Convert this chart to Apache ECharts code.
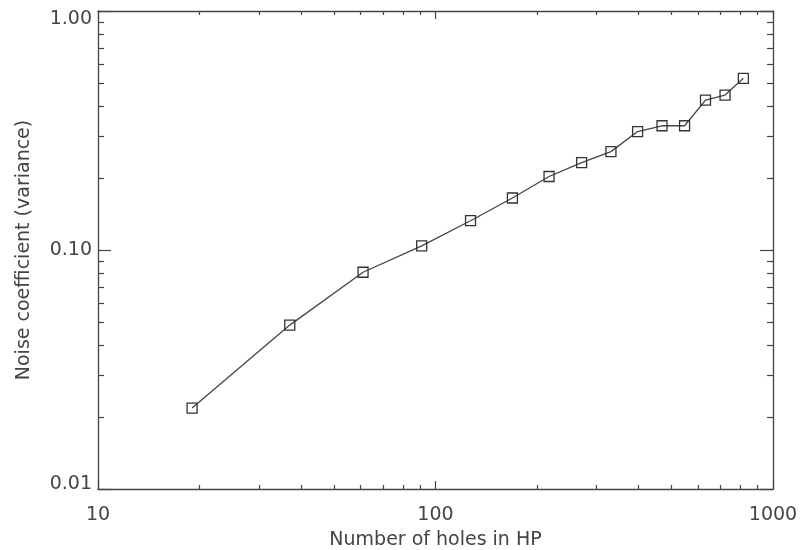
<!DOCTYPE html>
<html>
<head>
<meta charset="utf-8">
<script src="https://cdn.jsdelivr.net/npm/echarts@6/dist/echarts.min.js"></script>
<style>
  html, body { margin: 0; padding: 0; background: #fff; }
  #main { width: 801px; height: 550px; }
</style>
</head>
<body>
<div id="main"></div>
<script>
// holes in HP (x) vs noise coefficient (y)
const holes = [19, 37, 61, 91, 127, 169, 217, 271, 331, 397, 469, 547, 631, 721, 817];
const noise = [0.0218, 0.0485, 0.0807, 0.104, 0.1326, 0.165, 0.203, 0.232, 0.258, 0.313, 0.331, 0.331, 0.424, 0.445, 0.523];

const xMinorTicks = [20, 30, 40, 50, 60, 70, 80, 90, 200, 300, 400, 500, 600, 700, 800, 900];
const yMinorTicks = [0.02, 0.03, 0.04, 0.05, 0.06, 0.07, 0.08, 0.09, 0.2, 0.3, 0.4, 0.5, 0.6, 0.7, 0.8, 0.9];

const INK = '#444';
const FONT = 'DejaVu Sans';

function logAxis(opts) {
  return Object.assign({
    type: 'log',
    logBase: 10,
    splitLine: { show: false },
    axisLine: { show: false },
    axisLabel: { show: false },
    axisTick: { show: false }
  }, opts);
}

// IDL nudges the end labels inwards a little
function yLabel(v) {
  const s = Number(v).toFixed(2);
  if (v > 0.5) return '{hi|' + s + '}';
  if (v < 0.015) return '{lo|' + s + '}';
  return s;
}

const chart = echarts.init(document.getElementById('main'), null, { renderer: 'canvas' });

const xAxes = [
  logAxis({
    min: 10, max: 1000, position: 'bottom',
    axisLine: { show: true, lineStyle: { color: INK, width: 1.3 } },
    axisTick: { show: true, inside: true, length: 8, lineStyle: { color: INK, width: 1.2 } },
    axisLabel: {
      show: true, margin: 17, color: INK, fontFamily: FONT, fontSize: 19,
      formatter: v => String(Math.round(v))
    },
    name: 'Number of holes in HP',
    nameLocation: 'middle',
    nameGap: 42,
    nameTextStyle: { color: INK, fontFamily: FONT, fontSize: 19 }
  }),
  logAxis({
    min: 10, max: 1000, position: 'bottom',
    axisTick: { show: true, inside: true, length: 4, customValues: xMinorTicks, lineStyle: { color: INK, width: 1.2 } }
  }),
  logAxis({
    min: 10, max: 1000, position: 'top',
    axisLine: { show: true, lineStyle: { color: INK, width: 1.3 } },
    axisTick: { show: true, inside: true, length: 8, lineStyle: { color: INK, width: 1.2 } }
  }),
  logAxis({
    min: 10, max: 1000, position: 'top',
    axisTick: { show: true, inside: true, length: 4, customValues: xMinorTicks, lineStyle: { color: INK, width: 1.2 } }
  })
];

const yAxes = [
  logAxis({
    min: 0.01, max: 1, position: 'left',
    axisLine: { show: true, lineStyle: { color: INK, width: 1.3 } },
    axisTick: { show: true, inside: true, length: 13, lineStyle: { color: INK, width: 1.2 } },
    axisLabel: {
      show: true, margin: 6, color: INK, fontFamily: FONT, fontSize: 19,
      formatter: yLabel,
      rich: {
        hi: { color: INK, fontFamily: FONT, fontSize: 19, padding: [16, 0, 0, 0] },
        lo: { color: INK, fontFamily: FONT, fontSize: 19, padding: [0, 0, 9, 0] }
      }
    },
    name: 'Noise coefficient (variance)',
    nameLocation: 'middle',
    nameGap: 64,
    nameTextStyle: { color: INK, fontFamily: FONT, fontSize: 19 }
  }),
  logAxis({
    min: 0.01, max: 1, position: 'left',
    axisTick: { show: true, inside: true, length: 6, customValues: yMinorTicks, lineStyle: { color: INK, width: 1.2 } }
  }),
  logAxis({
    min: 0.01, max: 1, position: 'right',
    axisLine: { show: true, lineStyle: { color: INK, width: 1.3 } },
    axisTick: { show: true, inside: true, length: 13, lineStyle: { color: INK, width: 1.2 } }
  }),
  logAxis({
    min: 0.01, max: 1, position: 'right',
    axisTick: { show: true, inside: true, length: 6, customValues: yMinorTicks, lineStyle: { color: INK, width: 1.2 } }
  })
];

chart.setOption({
  animation: false,
  backgroundColor: '#fff',
  grid: { left: 98, right: 28, top: 11, bottom: 61, outerBoundsMode: 'none', containLabel: false },
  xAxis: xAxes,
  yAxis: yAxes,
  series: [{
    type: 'line',
    xAxisIndex: 0,
    yAxisIndex: 0,
    data: holes.map((h, i) => [h, noise[i]]),
    symbol: 'rect',
    symbolSize: 10,
    showAllSymbol: true,
    lineStyle: { color: INK, width: 1.3 },
    itemStyle: { color: 'rgba(0,0,0,0)', borderColor: '#333', borderWidth: 1.3 },
    emphasis: { disabled: true }
  }]
});

window.addEventListener('resize', () => chart.resize());
</script>
</body>
</html>
